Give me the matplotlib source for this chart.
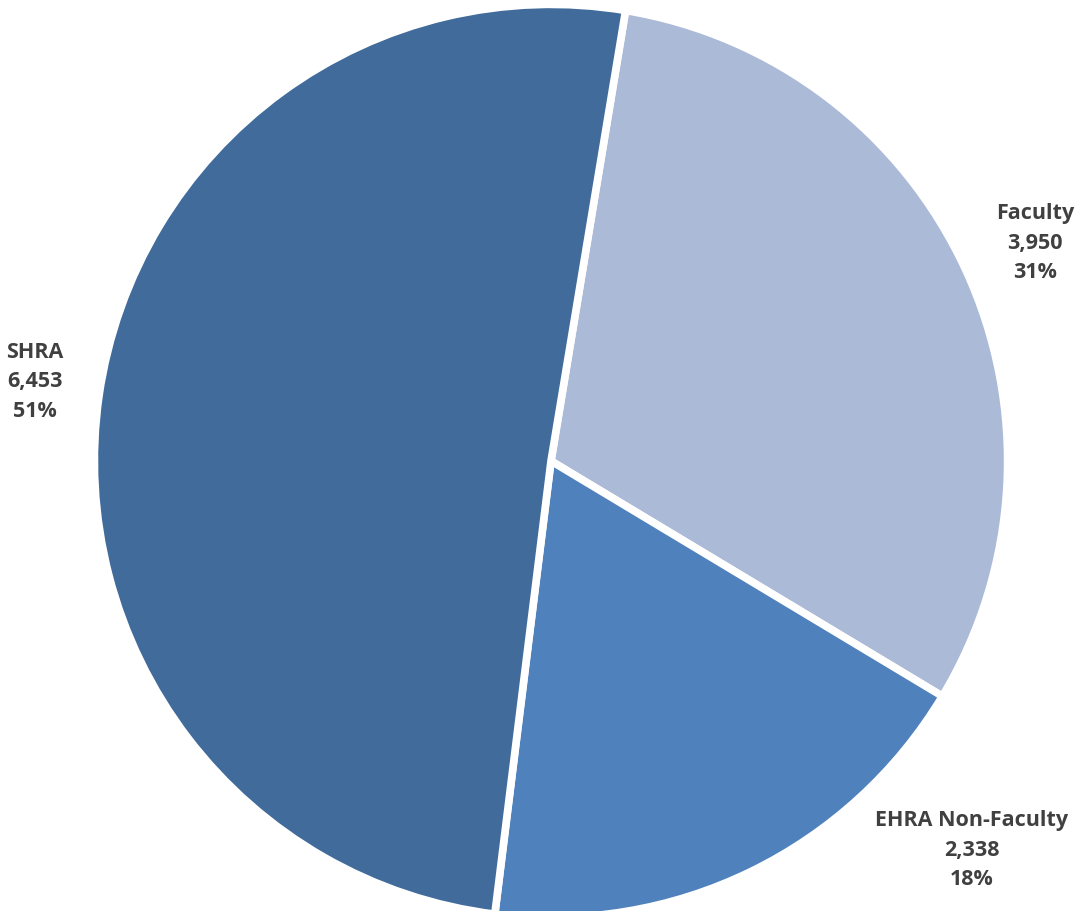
import matplotlib.pyplot as plt

categories = ['Faculty', 'EHRA Non-Faculty', 'SHRA']
values = [3950, 2338, 6453]
colors = ['#ABBAD7', '#4F81BD', '#416B9B']

# label anchor spots (data units, pie radius = 1)
label_pos = [(1.068, 0.483), (0.929, -0.857), (-1.139, 0.177)]

fig = plt.figure(figsize=(10.79, 9.12), dpi=100)
ax = fig.add_axes([0, 0, 1, 1])

total = sum(values)
ax.pie(values, colors=colors, startangle=80.6, counterclock=False, radius=1.008,
       wedgeprops=dict(edgecolor='white', linewidth=5.5))

for name, v, (x, y) in zip(categories, values, label_pos):
    pct = round(v / total * 100)
    ax.text(x, y, f"{name}\n{v:,}\n{pct}%", ha='center', va='center',
            fontsize=15.5, fontweight='bold', color='#404040',
            family=['Open Sans', 'DejaVu Sans'], linespacing=1.52)

ax.set_xlim(-551 / 453, (1079 - 551) / 453)
ax.set_ylim(-(912 - 462) / 453, 462 / 453)
ax.set_aspect('equal')
ax.axis('off')

fig.savefig('out.png', dpi=100)
